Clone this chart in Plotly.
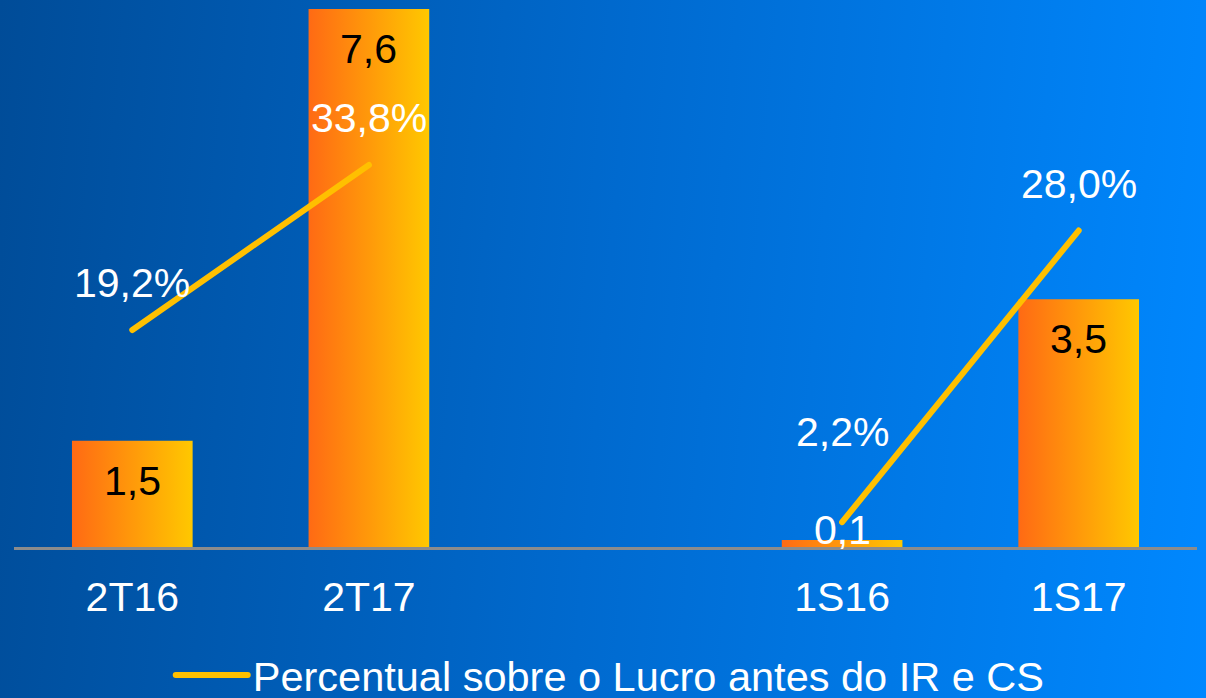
import plotly.graph_objects as go

################################################################################
# data

categories = ["2T16", "2T17", " ", "1S16", "1S17"]
valores = [1.5, 7.6, None, 0.1, 3.5]
percentuais = [19.2, 33.8, None, 2.2, 28.0]
legenda = "Percentual sobre o Lucro antes do IR e CS"

################################################################################

FONT = "Liberation Sans, Arial, sans-serif"
LINE_COLOR = "#FFC000"
FS = 41


def fmt(v, suffix=""):
    return "{:.1f}".format(v).replace(".", ",") + suffix


fig = go.Figure()

fig.add_trace(go.Bar(
    x=categories,
    y=valores,
    marker_color="#FF9A0A",
    marker_line_width=0,
    showlegend=False,
    hoverinfo="skip",
))

fig.add_trace(go.Scatter(
    x=categories,
    y=percentuais,
    yaxis="y2",
    mode="lines",
    name=legenda,
    line=dict(color=LINE_COLOR, width=6),
    connectgaps=False,
    hoverinfo="skip",
))

# value labels (inside the bars, or above them when the bar is too thin)
annotations = []
for cat, v in zip(categories, valores):
    if v is None:
        continue
    if v < 0.5:
        annotations.append(dict(x=cat, y=v, xref="x", yref="y", text=fmt(v),
                                showarrow=False, yanchor="middle", yshift=10,
                                font=dict(color="white", size=FS, family=FONT)))
    else:
        annotations.append(dict(x=cat, y=v, xref="x", yref="y", text=fmt(v),
                                showarrow=False, yanchor="middle", yshift=-40,
                                font=dict(color="black", size=FS, family=FONT)))

pct_shift = {"1S16": 90}
for cat, p in zip(categories, percentuais):
    if p is None:
        continue
    annotations.append(dict(x=cat, y=p, xref="x", yref="y2", text=fmt(p, "%"),
                            showarrow=False, yanchor="middle",
                            yshift=pct_shift.get(cat, 47),
                            font=dict(color="white", size=FS, family=FONT)))

fig.update_layout(
    width=1206,
    height=698,
    margin=dict(l=14, r=9, t=9, b=151),
    paper_bgcolor="rgba(0,0,0,0)",
    plot_bgcolor="rgba(0,0,0,0)",
    font=dict(family=FONT, size=FS, color="white"),
    bargap=0.49,
    annotations=annotations,
    xaxis=dict(
        type="category",
        showgrid=False,
        showline=True,
        linecolor="#8C8C8C",
        linewidth=3,
        ticks="",
        ticklabelstandoff=12,
        tickfont=dict(size=FS, color="white", family=FONT),
        fixedrange=True,
    ),
    yaxis=dict(range=[0, 7.6], visible=False, fixedrange=True),
    yaxis2=dict(range=[0, 47.6], overlaying="y", visible=False, fixedrange=True),
    legend=dict(
        orientation="h",
        xref="paper",
        x=0.504,
        xanchor="center",
        yref="container",
        y=0.033,
        yanchor="middle",
        itemwidth=72,
        font=dict(size=41.5, color="white", family=FONT),
        bgcolor="rgba(0,0,0,0)",
    ),
)

# gradient background and orange->yellow gradient on the bars
post = """
var gd = document.getElementById('{plot_id}');
var bg = 'linear-gradient(95deg, #004C98 0%, #006ACF 50%, #0088FF 100%)';
document.body.style.margin = '0';
document.body.style.overflow = 'hidden';
document.body.style.background = bg;
gd.style.background = bg;
var ns = 'http://www.w3.org/2000/svg';
var svg = gd.querySelector('svg.main-svg');
var defs = svg.querySelector('defs');
var grad = document.createElementNS(ns, 'linearGradient');
grad.setAttribute('id', 'barGrad');
grad.setAttribute('x1', '0'); grad.setAttribute('x2', '1');
grad.setAttribute('y1', '0'); grad.setAttribute('y2', '0');
[['0%', '#FF6A14'], ['100%', '#FFC800']].forEach(function(s) {
    var st = document.createElementNS(ns, 'stop');
    st.setAttribute('offset', s[0]);
    st.setAttribute('stop-color', s[1]);
    grad.appendChild(st);
});
defs.appendChild(grad);
gd.querySelectorAll('.barlayer .point path').forEach(function(p) {
    p.style.fill = 'url(#barGrad)';
});
gd.querySelectorAll('.scatterlayer .js-line, .legend .js-line').forEach(function(p) {
    p.style.strokeLinecap = 'round';
});
"""

fig.write_html("out.html", post_script=post, config={"displayModeBar": False})
